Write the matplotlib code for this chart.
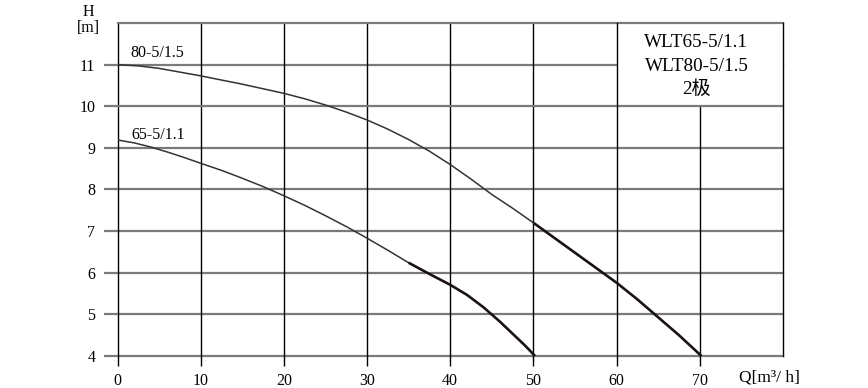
import matplotlib
matplotlib.use("Agg")
import matplotlib.pyplot as plt
from matplotlib.patches import Rectangle

# Data
q_80 = [0, 2.5, 5, 7.5, 10, 12.5, 15, 17.5, 20, 22.5, 25, 27.5, 30, 32.5, 35,
        37.5, 40, 42.5, 45, 47.5, 50, 52.5, 55, 57.5, 60, 62.5, 65, 67.5, 70.2]
h_80 = [11.0, 10.97, 10.91, 10.82, 10.73, 10.63, 10.53, 10.42, 10.31, 10.18,
        10.03, 9.86, 9.67, 9.45, 9.2, 8.92, 8.6, 8.25, 7.88, 7.55, 7.2, 6.84,
        6.48, 6.12, 5.76, 5.36, 4.93, 4.5, 4.0]
q_65 = [0, 2, 4, 6, 8, 10, 12.5, 15, 17.5, 20, 22.5, 25, 27.5, 30, 32.5, 35,
        37.5, 40, 42, 44, 46, 47, 49, 50.2]
h_65 = [9.19, 9.12, 9.02, 8.9, 8.77, 8.63, 8.46, 8.27, 8.07, 7.85, 7.62, 7.37,
        7.11, 6.83, 6.54, 6.24, 5.97, 5.71, 5.47, 5.17, 4.82, 4.63, 4.25, 4.0]
label_80 = "80-5/1.5"
label_65 = "65-5/1.1"
x_ticks = [0, 10, 20, 30, 40, 50, 60, 70]
y_ticks = [4, 5, 6, 7, 8, 9, 10, 11]
title_lines = ["WLT65-5/1.1", "WLT80-5/1.5", "2极"]

SERIF = ["Liberation Serif", "Noto Sans CJK SC", "DejaVu Sans"]
plt.rcParams["font.family"] = SERIF

fig = plt.figure(figsize=(8.68, 3.88), dpi=100)
ax = fig.add_axes([0.1354, 0.0825, 0.902 - 0.1354, 0.9407 - 0.0825])
ax.set_xlim(0, 80)
ax.set_ylim(4, 12)
for s in ax.spines.values():
    s.set_visible(False)

hgray = "#7a7a7a"
box_x0, box_x1, box_y0 = 60, 80, 10
for y in y_ticks + [12]:
    z = 2.5 if y in (box_y0, 12) else 1
    ax.axhline(y, color=hgray, lw=1.6, zorder=z, clip_on=False)
for x in x_ticks + [80]:
    z = 2.6 if x in (box_x0, box_x1) else 1.1
    ax.axvline(x, color="black", lw=1.0, zorder=z, clip_on=False)

# white box for the title
ax.add_patch(Rectangle((box_x0, box_y0), box_x1 - box_x0, 12 - box_y0,
                       facecolor="white", edgecolor="none", zorder=2,
                       clip_on=False))

ax.set_xticks(x_ticks)
ax.set_yticks(y_ticks)
ax.set_xticklabels([str(v) for v in x_ticks], fontsize=11.5)
ax.set_yticklabels([str(v) for v in y_ticks], fontsize=11.5)
ax.tick_params(axis="x", length=7, width=1.0, color="black", pad=5)
ax.tick_params(axis="y", length=10, width=1.6, color=hgray, pad=6)

def split_plot(q, h, qbreak):
    i = next(k for k, v in enumerate(q) if v >= qbreak)
    ax.plot(q[:i + 1], h[:i + 1], color="#333333", lw=1.1, zorder=3,
            solid_joinstyle="round")
    ax.plot(q[i:], h[i:], color="#1a1212", lw=1.9, zorder=3,
            solid_capstyle="butt", solid_joinstyle="round")

split_plot(q_80, h_80, 50)
split_plot(q_65, h_65, 35)

ax.text(1.6, 11.28, label_80, fontsize=11.5, va="center", ha="left", zorder=4)
ax.text(1.7, 9.31, label_65, fontsize=11.5, va="center", ha="left", zorder=4)

for txt, y in zip(title_lines, [11.52, 10.95, 10.42]):
    ax.text(69.6, y, txt, fontsize=13.8, ha="center", va="center", zorder=4)

fig.text(88 / 868, 1 - 12 / 388, "H", fontsize=11.5, ha="center", va="center")
fig.text(88 / 868, 1 - 28 / 388, "[m]", fontsize=11.5, ha="center", va="center")
fig.text(739 / 868, 1 - 378 / 388, "Q[m³/ h]", fontsize=12.5, ha="left", va="center")

fig.savefig("out.png", dpi=100, facecolor="white")
